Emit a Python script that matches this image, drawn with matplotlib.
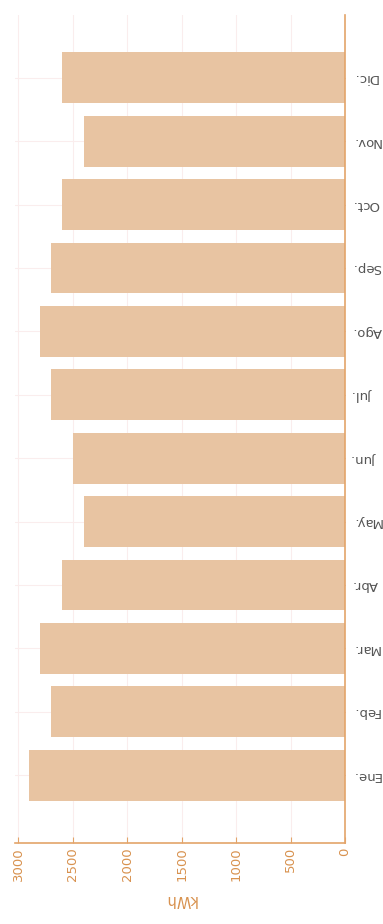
import matplotlib
matplotlib.use("Agg")
from matplotlib import pyplot as plt

meses = ["Ene.", "Feb.", "Mar.", "Abr.", "May.", "Jun.",
         "Jul.", "Ago.", "Sep.", "Oct.", "Nov.", "Dic."]
consumo = [2900, 2700, 2800, 2600, 2400, 2500,
           2700, 2800, 2700, 2600, 2400, 2600]
ticks_kwh = [0, 500, 1000, 1500, 2000, 2500, 3000]

bar_color = "#E8C4A2"
axis_color = "#E3A46A"
text_orange = "#D8924F"

fig = plt.figure(figsize=(3.83, 9.24), dpi=100)
ax = fig.add_axes([15 / 383, 81 / 924, 330 / 383, 828 / 924])

pos = list(range(len(meses)))
ax.barh(pos, consumo, height=0.8, color=bar_color, zorder=2)

# chart is drawn upside down: zero on the right, Ene. at the bottom
ax.set_xlim(3030, 0)
ax.set_ylim(-1.07, 11.99)

ax.set_xticks(ticks_kwh)
ax.set_xticklabels([str(t) for t in ticks_kwh], rotation=90,
                   color=text_orange, fontsize=9.5, va="top")
ax.set_xlabel("kWh", color=text_orange, fontsize=10.5, rotation=180, labelpad=8)

ax.yaxis.tick_right()
ax.set_yticks(pos)
ax.set_yticklabels(meses, rotation=180, color="#555555", fontsize=9.5,
                   ha="left", va="center")

ax.tick_params(axis="x", direction="in", length=4, color=axis_color, pad=3)
ax.tick_params(axis="y", direction="in", length=3, color=axis_color, pad=5)

for side in ["top", "left"]:
    ax.spines[side].set_visible(False)
for side in ["bottom", "right"]:
    ax.spines[side].set_color(axis_color)
    ax.spines[side].set_linewidth(1.2)

ax.grid(True, color="#FAEDED", linewidth=0.8, zorder=0)
ax.set_axisbelow(True)

fig.savefig("out.png", dpi=100)
